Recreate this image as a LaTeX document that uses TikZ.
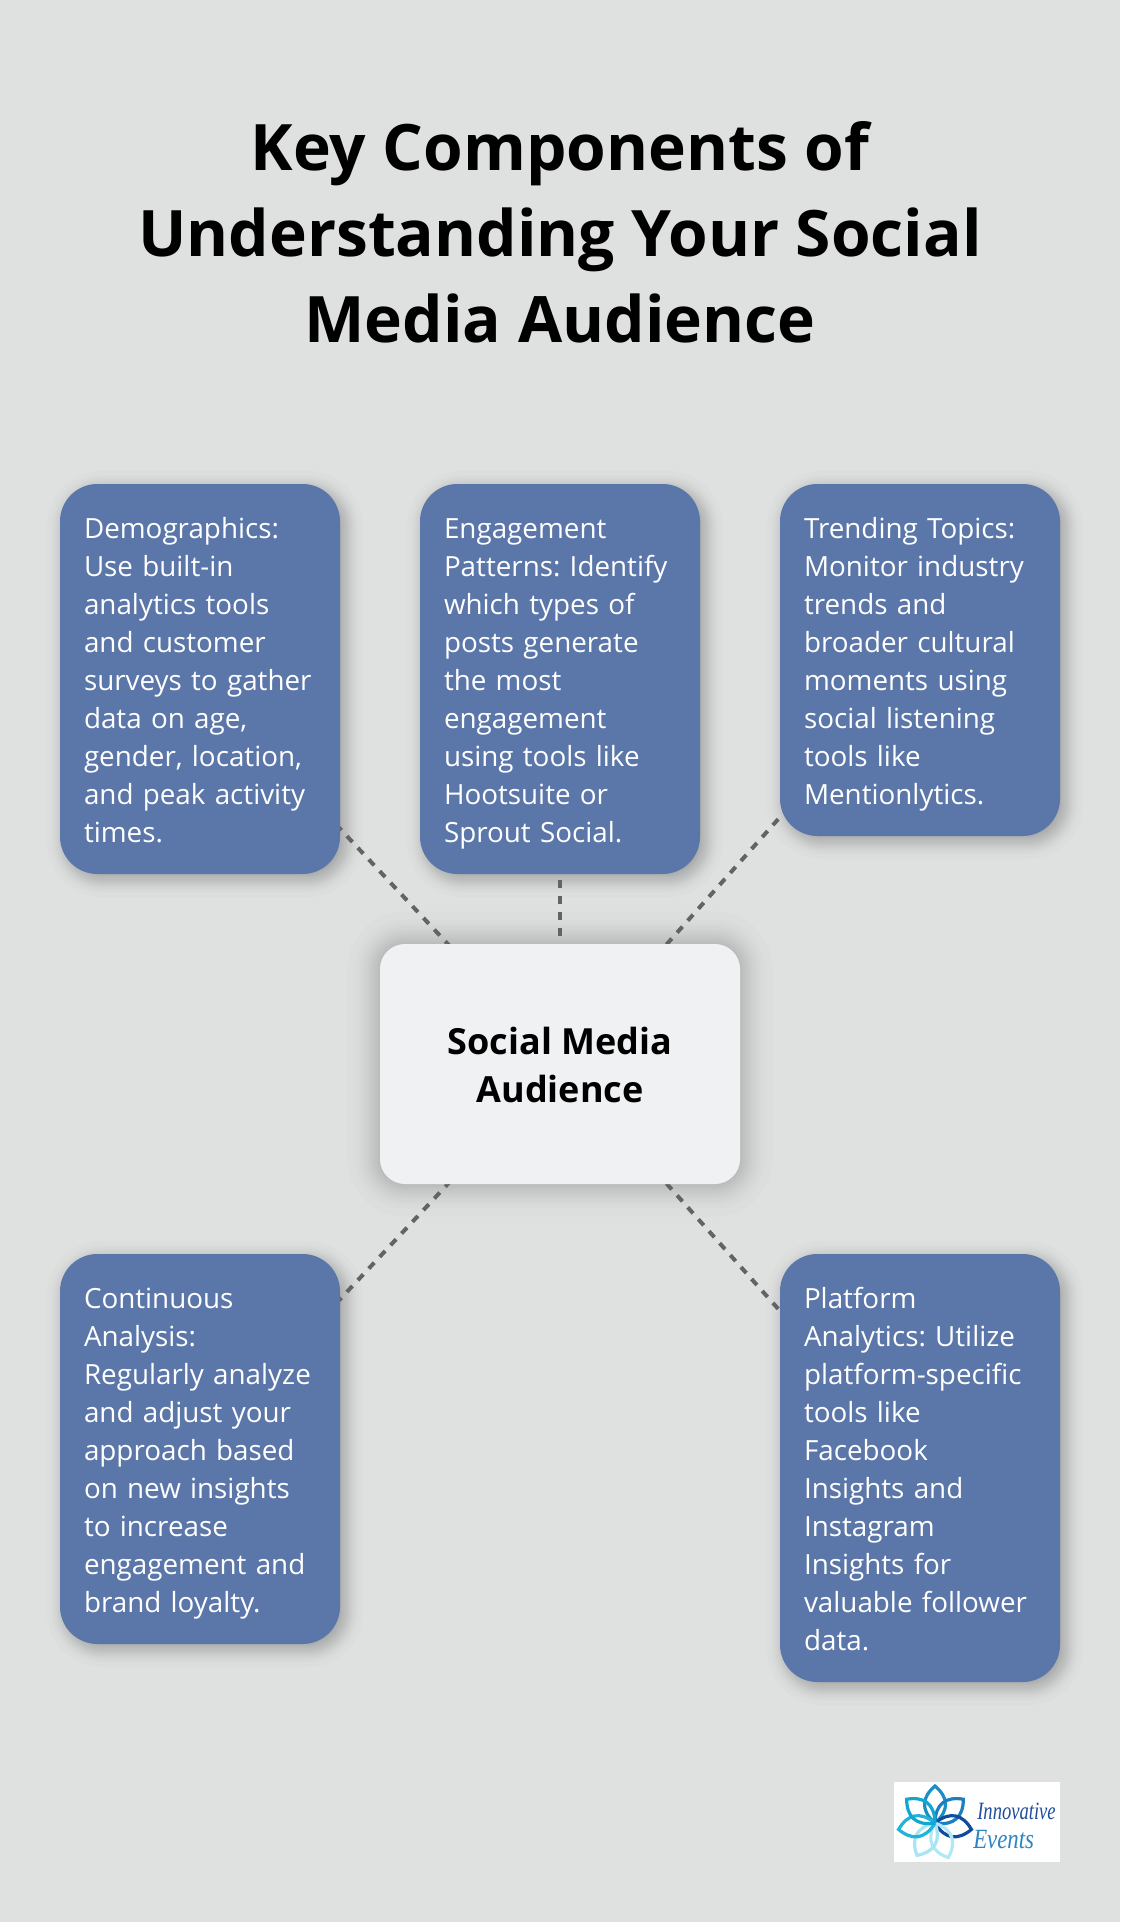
\documentclass[tikz,border=0pt]{standalone}
\usepackage{graphicx}
\usepackage{fontspec}
\setmainfont{Open Sans}[WordSpace=0.8,BoldFeatures={WordSpace=1}]
\newfontfamily\logofont{Liberation Serif}
\usetikzlibrary{calc}
\frenchspacing
\definecolor{bgcol}{HTML}{DFE1E0}
\definecolor{boxcol}{HTML}{5B76A8}
\definecolor{midcol}{HTML}{EFF1F3}
\definecolor{linecol}{HTML}{636363}
\definecolor{pa}{HTML}{1A8FC6}
\definecolor{pb}{HTML}{1E7FBE}
\definecolor{pc}{HTML}{0F4C9C}
\definecolor{pd}{HTML}{B2E8F6}
\definecolor{pe}{HTML}{A8E4F4}
\definecolor{pf}{HTML}{22B2DA}
\definecolor{pg}{HTML}{12A6D2}
\definecolor{logoa}{HTML}{1F4E9A}
\definecolor{logob}{HTML}{2A85C5}
\pgfdeclarelayer{bglayer}
\pgfdeclarelayer{shadowlayer}
\pgfdeclarelayer{connlayer}
\pgfsetlayers{bglayer,shadowlayer,connlayer,main}
\newcommand{\st}{\rule[-5.4pt]{0pt}{28.5pt}}
% name, radius, sigma, opacity per layer, offset x, offset y
\newcommand{\softshadow}[6]{%
  \begin{pgfonlayer}{shadowlayer}
  \foreach \z in {-2.04,-1.54,-1.28,-1.10,-.93,-.79,-.67,-.55,-.43,-.32,-.21,-.10,.10,.21,.32,.43,.55,.67,.79,.93,1.10,1.28,1.54,2.04}{
    \pgfmathsetmacro{\s}{#3*\z}
    \pgfmathsetmacro{\rr}{max(#2+\s,1)}
    \fill[black,opacity=#4,rounded corners=\rr*0.75pt]
      ($(#1.north west)+(#5-\s,#6-\s)$) rectangle ($(#1.south east)+(#5+\s,#6+\s)$);
  }
  \end{pgfonlayer}}
\tikzset{
  infobox/.style={rectangle,fill=boxcol,text=white,rounded corners=28pt,
    minimum width=210pt,inner xsep=18pt,inner ysep=18pt,outer sep=0pt,
    text width=174pt,align=left,anchor=north west,
    font=\fontsize{20.85}{28.5}\selectfont},
  midbox/.style={rectangle,fill=midcol,text=black,rounded corners=18.75pt,
    minimum width=270pt,minimum height=180pt,outer sep=0pt,align=center,
    font=\fontsize{27}{36}\selectfont\bfseries},
  titlenode/.style={align=center,text=black,inner sep=0pt,
    font=\fontsize{48.05}{64.6}\selectfont\bfseries},
  conn/.style={draw=linecol,line width=3pt,dash pattern=on 6pt off 6pt},
  petal/.style={line width=2.4pt,fill=none},
}
\newcommand{\petalat}[2]{%
  \draw[petal,draw=#2,shift={(935,1823)},rotate=#1]
    (0,0) .. controls (-15,-13) and (-13,-26) .. (0,-37)
    .. controls (13,-26) and (15,-13) .. (0,0);}
\begin{document}
\begin{tikzpicture}[x=0.75pt,y=-0.75pt]
\useasboundingbox (0,0) rectangle (1120,1922);
\begin{pgfonlayer}{bglayer}
\fill[bgcol] (0,0) rectangle (1120,1922);
\end{pgfonlayer}

\node[titlenode] (title) at (560,232.5) {Key Components of\\Understanding Your Social\\Media Audience};

\node[infobox] (b1) at (60,484) {\st Demographics:\\\st Use built-in\\\st analytics tools\\\st and customer\\\st surveys to gather\\\st data on age,\\\st gender, location,\\\st and peak activity\\\st times.};
\node[infobox] (b2) at (420,484) {\st Engagement\\\st Patterns: Identify\\\st which types of\\\st posts generate\\\st the most\\\st engagement\\\st using tools like\\\st Hootsuite or\\\st Sprout Social.};
\node[infobox] (b3) at (780,484) {\st Trending Topics:\\\st Monitor industry\\\st trends and\\\st broader cultural\\\st moments using\\\st social listening\\\st tools like\\\st Mentionlytics.};
\node[infobox] (b4) at (60,1254) {\st Continuous\\\st Analysis:\\\st Regularly analyze\\\st and adjust your\\\st approach based\\\st on new insights\\\st to increase\\\st engagement and\\\st brand loyalty.};
\node[infobox] (b5) at (780,1254) {\st Platform\\\st Analytics: Utilize\\\st platform-specific\\\st tools like\\\st Facebook\\\st Insights and\\\st Instagram\\\st Insights for\\\st valuable follower\\\st data.};
\node[midbox,text depth=0pt] (mid) at (560,1064) {\raisebox{-1.8pt}{Social Media}\\\raisebox{-1.8pt}{Audience}};

\softshadow{b1}{38}{9}{.0135}{5}{5}
\softshadow{b2}{38}{9}{.0135}{5}{5}
\softshadow{b3}{38}{9}{.0135}{5}{5}
\softshadow{b4}{38}{9}{.0135}{5}{5}
\softshadow{b5}{38}{9}{.0135}{5}{5}
\softshadow{mid}{25}{16}{.0105}{0}{0}

\begin{pgfonlayer}{connlayer}
\foreach \b in {b1,b2,b3,b4,b5}{
  \draw[conn] (mid.center) -- (\b.center);
}
\end{pgfonlayer}

% logo
\node[rectangle,fill=white,minimum width=124.5pt,minimum height=60pt,inner sep=0pt,outer sep=0pt] (logo) at (977,1822) {};
\petalat{0}{pa}
\petalat{-50}{pb}
\petalat{-100}{pc}
\petalat{-159}{pd}
\petalat{-209}{pe}
\petalat{-260}{pf}
\petalat{-310}{pg}
\node[inner sep=0pt,text=logoa,anchor=base west,font=\logofont\itshape\fontsize{17}{17}\selectfont] (logotexta) at (977,1819) {\scalebox{0.82}[1.1]{Innovative}};
\node[inner sep=0pt,text=logob,anchor=base west,font=\logofont\itshape\fontsize{19}{19}\selectfont] (logotextb) at (973,1848) {\scalebox{0.9}[1.1]{Events}};
\end{tikzpicture}
\end{document}
